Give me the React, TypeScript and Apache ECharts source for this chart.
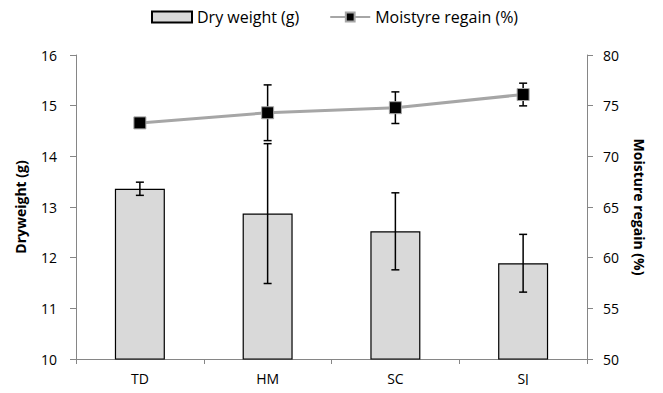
import React, { useEffect, useRef } from "react";
import * as echarts from "echarts";

const categories = ["TD", "HM", "SC", "SJ"];
const dryWeight = [13.36, 12.87, 12.52, 11.89];
const dryWeightErr = [0.13, 1.38, 0.76, 0.57];
const moisture = [73.3, 74.3, 74.8, 76.1];
const moistureErr = [0.3, 2.75, 1.56, 1.12];
const leftTicks = { min: 10, max: 16, interval: 1 };
const rightTicks = { min: 50, max: 80, interval: 5 };

const FONT = "'Open Sans', 'Noto Sans', sans-serif";

function errData(vals: number[], errs: number[]) {
  return vals.map((v, i) => [i, v - errs[i], v + errs[i]]);
}

function renderErr(params: any, api: any) {
  const x = api.value(0);
  const lo = api.coord([x, api.value(1)]);
  const hi = api.coord([x, api.value(2)]);
  const cap = 4;
  const style = { stroke: "#000", lineWidth: 1.5 };
  return {
    type: "group",
    children: [
      { type: "line", shape: { x1: lo[0], y1: lo[1], x2: hi[0], y2: hi[1] }, style },
      { type: "line", shape: { x1: lo[0] - cap, y1: lo[1], x2: lo[0] + cap, y2: lo[1] }, style },
      { type: "line", shape: { x1: hi[0] - cap, y1: hi[1], x2: hi[0] + cap, y2: hi[1] }, style },
    ],
  };
}

export default function App() {
  const ref = useRef<HTMLDivElement>(null);
  useEffect(() => {
    if (!ref.current) return;
    const chart = echarts.init(ref.current, null, { renderer: "svg" });
    const axisLabel = { color: "#000", fontSize: 14, fontFamily: FONT };
    const nameStyle = { fontWeight: "bold", fontSize: 14, color: "#000", fontFamily: FONT };
    chart.setOption({
      animation: false,
      textStyle: { fontFamily: FONT },
      legend: {
        top: 4,
        left: 146,
        itemGap: 30,
        itemWidth: 40,
        itemHeight: 11,
        textStyle: { fontSize: 16, color: "#000", fontFamily: FONT },
        data: [
          { name: "Dry weight (g)", icon: "rect" },
          { name: "Moistyre regain (%)" },
        ],
      },
      grid: { left: 76, right: 76, top: 55, bottom: 34, containLabel: false },
      xAxis: {
        type: "category",
        data: categories,
        axisLine: { lineStyle: { color: "#868686", width: 1 } },
        axisTick: { show: true, length: 5, lineStyle: { color: "#868686" } },
        axisLabel: { ...axisLabel, margin: 12 },
      },
      yAxis: [
        {
          type: "value",
          ...leftTicks,
          name: "Dryweight (g)",
          nameLocation: "middle",
          nameGap: 49,
          nameTextStyle: nameStyle,
          axisLine: { show: true, lineStyle: { color: "#868686" } },
          axisTick: { show: true, length: 6, lineStyle: { color: "#868686" } },
          splitLine: { show: false },
          axisLabel: { ...axisLabel, margin: 19 },
        },
        {
          type: "value",
          ...rightTicks,
          position: "right",
          name: "Moisture regain (%)",
          nameLocation: "middle",
          nameGap: 45,
          nameRotate: -90,
          nameTextStyle: nameStyle,
          axisLine: { show: true, lineStyle: { color: "#868686" } },
          axisTick: { show: true, length: 6, lineStyle: { color: "#868686" } },
          splitLine: { show: false },
          axisLabel: { ...axisLabel, margin: 16 },
        },
      ],
      series: [
        {
          name: "Dry weight (g)",
          type: "bar",
          data: dryWeight,
          barWidth: 50,
          itemStyle: { color: "#d9d9d9", borderColor: "#000", borderWidth: 1.2 },
          yAxisIndex: 0,
          z: 2,
        },
        {
          type: "custom",
          name: "dwErr",
          data: errData(dryWeight, dryWeightErr),
          renderItem: renderErr,
          encode: { x: 0, y: [1, 2] },
          yAxisIndex: 0,
          z: 3,
        },
        {
          type: "custom",
          name: "mrErr",
          data: errData(moisture, moistureErr),
          renderItem: renderErr,
          encode: { x: 0, y: [1, 2] },
          yAxisIndex: 1,
          z: 4,
        },
        {
          name: "Moistyre regain (%)",
          type: "line",
          data: moisture,
          yAxisIndex: 1,
          symbol: "rect",
          symbolSize: 12,
          lineStyle: { color: "#a6a6a6", width: 3 },
          itemStyle: { color: "#000", borderColor: "#a6a6a6", borderWidth: 1 },
          z: 5,
        },
      ],
    });
    return () => chart.dispose();
  }, []);
  return <div ref={ref} style={{ width: 663, height: 393, margin: -8 }} />;
}
